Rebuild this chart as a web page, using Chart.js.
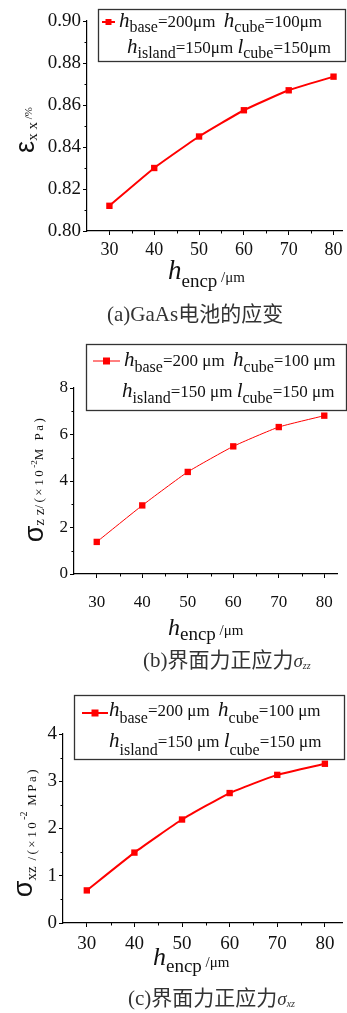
<!DOCTYPE html>
<html>
<head>
<meta charset="utf-8">
<script src="https://cdn.jsdelivr.net/npm/chart.js@4"></script>
<style>
  html, body { margin: 0; padding: 0; background: #fff; }
  body { width: 347px; height: 1013px; position: relative; overflow: hidden; }
  canvas { position: absolute; left: 0; }
</style>
</head>
<body>
<canvas id="chartA" width="347" height="338" style="top:0px"></canvas>
<canvas id="chartB" width="347" height="340" style="top:338px"></canvas>
<canvas id="chartC" width="347" height="335" style="top:678px"></canvas>
<script>
// h_encp values (x axis, µm)
const hEncp = [30, 40, 50, 60, 70, 80];

// (a) strain of the GaAs cell, %
const strainXX = [0.812, 0.830, 0.845, 0.8575, 0.867, 0.8735];
// (b) interface normal stress sigma_zz, x10^-2 MPa
const stressZZ = [1.38, 2.95, 4.39, 5.49, 6.32, 6.81];
// (c) interface stress sigma_xz, x10^-2 MPa
const stressXZ = [0.69, 1.49, 2.19, 2.75, 3.135, 3.37];

// tick labels
const xTicks = [30, 40, 50, 60, 70, 80];
const yTicksA = [0.80, 0.82, 0.84, 0.86, 0.88, 0.90];
const yTicksB = [0, 2, 4, 6, 8];
const yTicksC = [0, 1, 2, 3, 4];

// minor tick marks (no labels)
const xMinor = [35, 45, 55, 65, 75];
const yMinorA = [0.81, 0.83, 0.85, 0.87, 0.89];
const yMinorB = [1, 3, 5, 7];
const yMinorC = [0.5, 1.5, 2.5, 3.5];

const SERIF = '"Liberation Serif", "Times New Roman", serif';
const SANS = '"Liberation Sans", Arial, sans-serif';
const CJK = '"Liberation Serif", "Noto Sans CJK SC", serif';
const RED = '#ff0000';

// draw a run of text pieces (sub/superscripts, italics) from x
function rich(ctx, x, y, parts, center) {
  const setFont = p => {
    ctx.font = (p.i ? 'italic ' : '') + p.s + 'px ' + (p.f || SERIF);
    ctx.letterSpacing = (p.ls || 0) + 'px';
  };
  let w = 0;
  parts.forEach(p => { setFont(p); w += ctx.measureText(p.t).width; });
  let cx = center ? x - w / 2 : x;
  parts.forEach(p => {
    setFont(p);
    ctx.fillText(p.t, cx, y + (p.dy || 0));
    cx += ctx.measureText(p.t).width;
  });
  ctx.letterSpacing = '0px';
}

// the two legend rows, same wording in every panel (spacing differs a bit)
function legendRows(sp, dy1, dy2) {
  return [
    [{t:'h',s:21,i:1},{t:'base',s:16,dy:dy1},{t:'=200' + sp + 'μm  ',s:17},{t:'h',s:21,i:1},{t:'cube',s:16,dy:dy1},{t:'=100' + sp + 'μm',s:17}],
    [{t:'h',s:21,i:1},{t:'island',s:16,dy:dy2},{t:'=150' + sp + 'μm ',s:17},{t:'l',s:21,i:1},{t:'cube',s:16,dy:dy2},{t:'=150' + sp + 'μm',s:17}]
  ];
}

// everything that is not axes/data: legend box, axis titles, caption, minor ticks
const rowsA = legendRows('', 5, 5);
const rowsB = legendRows(' ', 6, 6);
const rowsC = legendRows(' ', 7, 8);
const panels = {
  chartA: {
    minorY: yMinorA,
    legend: {
      box: [98, 9, 248, 53], sample: [102, 115, 22], sq: 6, lw: 2,
      lines: [[119, 27, rowsA[0]], [127, 53, rowsA[1]]]
    },
    ytitle: [34, 130, [{t:'ε',s:27,f:SANS},{t:'x x',s:15,dy:3},{t:' /%',s:11,dy:-2}]],
    xtitle: [168, 279, [{t:'h',s:27,i:1},{t:'encp',s:19,dy:8},{t:' /μm',s:15,dy:3}]],
    caption: [107, 321, [{t:'(a)GaAs电池的应变',s:21,f:CJK}]]
  },
  chartB: {
    minorY: yMinorB,
    legend: {
      box: [86, 6, 261, 67], sample: [93, 120, 23], sq: 7, lw: 1,
      lines: [[124, 28, rowsB[0]], [122, 59, rowsB[1]]]
    },
    ytitle: [43, 141, [{t:'σ',s:27,f:SANS},{t:'z z',s:15,dy:1},{t:'/(×10',s:13,ls:2.5},{t:'-2',s:9,dy:-6},{t:'M Pa)',s:13,ls:2.5}]],
    xtitle: [168, 297, [{t:'h',s:24,i:1},{t:'encp',s:19,dy:5},{t:' /μm',s:15,dy:0}]],
    caption: [143, 329, [{t:'(b)界面力正应力',s:21,f:CJK},{t:'σ',s:19,i:1},{t:'zz',s:10,i:1,dy:2}]]
  },
  chartC: {
    minorY: yMinorC,
    legend: {
      box: [74, 17, 271, 65], sample: [82, 108, 35], sq: 7, lw: 2,
      lines: [[109, 38, rowsC[0]], [109, 69, rowsC[1]]]
    },
    ytitle: [32, 154, [{t:'σ',s:27,f:SANS},{t:'xz',s:15,dy:4},{t:' /(×10',s:13,dy:4,ls:2.5},{t:'-2',s:10,dy:-5},{t:' MPa)',s:13,dy:4,ls:2.5}]],
    xtitle: [153, 287, [{t:'h',s:26,i:1},{t:'encp',s:19,dy:7},{t:' /μm',s:15,dy:2}]],
    caption: [128, 327, [{t:'(c)界面力正应力',s:21,f:CJK},{t:'σ',s:19,i:1},{t:'xz',s:10,i:1,dy:2}]]
  }
};

const panelPlugin = {
  id: 'panel',
  afterDraw(chart) {
    const cfg = panels[chart.canvas.id];
    const ctx = chart.ctx;
    const area = chart.chartArea;
    const xs = chart.scales.x, ys = chart.scales.y;
    ctx.save();

    // minor ticks
    ctx.strokeStyle = '#000';
    ctx.lineWidth = 1;
    ctx.beginPath();
    cfg.minorY.forEach(v => {
      const py = Math.round(ys.getPixelForValue(v)) + 0.5;
      ctx.moveTo(area.left - 2.5, py);
      ctx.lineTo(area.left, py);
    });
    xMinor.forEach(v => {
      const px = Math.round(xs.getPixelForValue(v)) + 0.5;
      ctx.moveTo(px, area.bottom);
      ctx.lineTo(px, area.bottom + 2.5);
    });
    ctx.stroke();

    // legend box
    const lg = cfg.legend;
    const [bx, by, bw, bh] = lg.box;
    ctx.fillStyle = '#fff';
    ctx.fillRect(bx, by, bw, bh);
    ctx.strokeStyle = '#333';
    ctx.lineWidth = 1.3;
    ctx.strokeRect(bx + 0.5, by + 0.5, bw - 1, bh - 1);
    const [sx1, sx2, sy] = lg.sample;
    ctx.strokeStyle = RED;
    ctx.lineWidth = lg.lw;
    ctx.beginPath();
    ctx.moveTo(sx1, sy);
    ctx.lineTo(sx2, sy);
    ctx.stroke();
    ctx.fillStyle = RED;
    ctx.fillRect((sx1 + sx2) / 2 - lg.sq / 2, sy - lg.sq / 2, lg.sq, lg.sq);
    ctx.fillStyle = '#111';
    ctx.textBaseline = 'alphabetic';
    ctx.textAlign = 'left';
    lg.lines.forEach(([lx, ly, parts]) => rich(ctx, lx, ly, parts));

    // x title
    rich(ctx, cfg.xtitle[0], cfg.xtitle[1], cfg.xtitle[2]);

    // y title, rotated
    ctx.save();
    ctx.translate(cfg.ytitle[0], cfg.ytitle[1]);
    ctx.rotate(-Math.PI / 2);
    rich(ctx, 0, 0, cfg.ytitle[2], true);
    ctx.restore();

    // caption
    ctx.fillStyle = '#333';
    rich(ctx, cfg.caption[0], cfg.caption[1], cfg.caption[2]);
    ctx.restore();
  }
};

function makeChart(id, values, yTicks, g) {
  const ctx = document.getElementById(id).getContext('2d');
  return new Chart(ctx, {
    type: 'line',
    data: {
      datasets: [{
        data: hEncp.map((x, i) => ({ x: x, y: values[i] })),
        borderColor: RED,
        backgroundColor: RED,
        borderWidth: g.lw,
        pointStyle: 'rect',
        pointRadius: g.pr,
        pointBorderWidth: 0,
        tension: 0.15,
        clip: false
      }]
    },
    options: {
      responsive: false,
      animation: false,
      devicePixelRatio: 1,
      layout: { padding: { top: g.top, right: 0, left: 0, bottom: 0 } },
      plugins: { legend: { display: false }, tooltip: { enabled: false } },
      scales: {
        x: {
          type: 'linear',
          min: 25,
          max: g.xMax,
          afterBuildTicks: s => { s.ticks = xTicks.map(v => ({ value: v })); },
          afterFit: s => { s.height = g.xH; },
          grid: { drawOnChartArea: false, tickLength: 4, color: '#000' },
          border: { color: '#000', width: 1.2 },
          ticks: { color: '#111', font: { family: SERIF, size: g.font }, padding: g.xPad, maxRotation: 0, autoSkip: false }
        },
        y: {
          min: yTicks[0],
          max: yTicks[yTicks.length - 1],
          afterBuildTicks: s => { s.ticks = yTicks.map(v => ({ value: v })); },
          afterFit: s => { s.width = g.left; },
          grid: { drawOnChartArea: false, tickLength: 4, color: '#000' },
          border: { color: '#000', width: 1.2 },
          ticks: {
            color: '#111',
            font: { family: SERIF, size: g.yFont || g.font },
            padding: 2,
            callback: v => g.dec ? v.toFixed(g.dec) : String(v)
          }
        }
      }
    },
    plugins: [panelPlugin]
  });
}

makeChart('chartA', strainXX, yTicksA, { left: 87, top: 21, xH: 107, xMax: 82, lw: 2, pr: 4.5, font: 18, yFont: 19, xPad: 4, dec: 2 });
makeChart('chartB', stressZZ, yTicksB, { left: 74, top: 50, xH: 104, xMax: 83, lw: 1, pr: 4.5, font: 17, xPad: 14 });
makeChart('chartC', stressXZ, yTicksC, { left: 63, top: 56, xH: 90, xMax: 83.7, lw: 2, pr: 4.5, font: 19, xPad: 6 });
</script>
</body>
</html>
